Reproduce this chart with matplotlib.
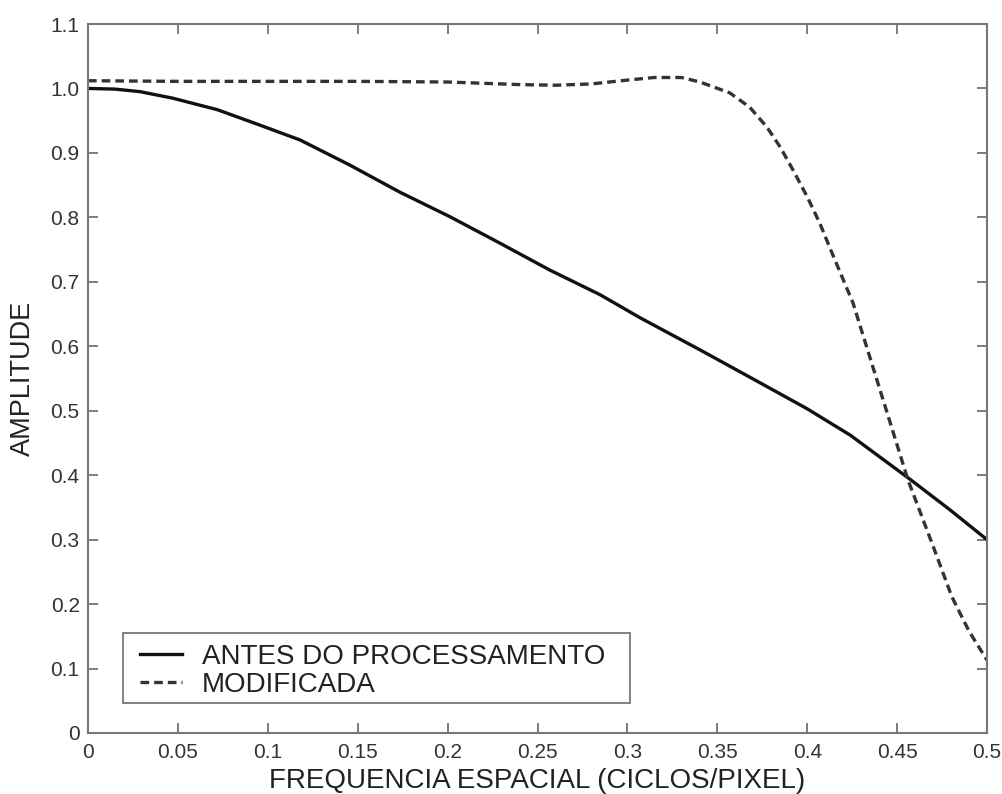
import numpy as np
import matplotlib
matplotlib.use("Agg")
import matplotlib.pyplot as plt
from matplotlib.patches import Rectangle

plt.rcParams['font.family'] = ['Liberation Sans', 'DejaVu Sans']

# Data
x_solid = [0.0, 0.015, 0.029, 0.047, 0.072, 0.0957, 0.118, 0.1457, 0.1735, 0.2013, 0.2291, 0.257,
           0.2848, 0.3072, 0.34, 0.374, 0.40, 0.424, 0.4575, 0.4795, 0.5]
y_solid = [1.0, 0.999, 0.995, 0.985, 0.967, 0.943, 0.920, 0.881, 0.839, 0.801, 0.760, 0.718,
           0.680, 0.644, 0.595, 0.543, 0.503, 0.462, 0.393, 0.346, 0.300]

x_mod = [0.0, 0.05, 0.1, 0.15, 0.2, 0.24, 0.26, 0.28, 0.30, 0.315, 0.33, 0.3404, 0.357, 0.368,
         0.3776, 0.385, 0.392, 0.40, 0.407, 0.4127, 0.4255, 0.4422, 0.456, 0.47, 0.4805, 0.49, 0.5]
y_mod = [1.012, 1.011, 1.011, 1.011, 1.010, 1.006, 1.005, 1.007, 1.013, 1.017, 1.017, 1.010, 0.993, 0.971,
         0.940, 0.909, 0.874, 0.832, 0.791, 0.752, 0.667, 0.517, 0.393, 0.290, 0.211, 0.158, 0.113]

xticks = [0, 0.05, 0.1, 0.15, 0.2, 0.25, 0.3, 0.35, 0.4, 0.45, 0.5]
xtick_labels = ['0', '0.05', '0.1', '0.15', '0.2', '0.25', '0.3', '0.35', '0.4', '0.45', '0.5']
yticks = [0, 0.1, 0.2, 0.3, 0.4, 0.5, 0.6, 0.7, 0.8, 0.9, 1.0, 1.1]
ytick_labels = ['0', '0.1', '0.2', '0.3', '0.4', '0.5', '0.6', '0.7', '0.8', '0.9', '1.0', '1.1']

W, H = 1002, 794
AX_L, AX_R, AX_T, AX_B = 88, 987, 24, 733

fig = plt.figure(figsize=(W / 100, H / 100), dpi=100)
ax = fig.add_axes([AX_L / W, (H - AX_B) / H, (AX_R - AX_L) / W, (AX_B - AX_T) / H])

ax.plot(x_solid, y_solid, color='#111111', lw=2.4, ls='-', label='ANTES DO PROCESSAMENTO',
        solid_joinstyle='round')
ax.plot(x_mod, y_mod, color='#333333', lw=2.4, ls=(0, (2.6, 1.5)), label='MODIFICADA')

ax.set_xlim(0, 0.5)
ax.set_ylim(0, 1.1)
ax.set_xticks(xticks)
ax.set_xticklabels(xtick_labels)
ax.set_yticks(yticks)
ax.set_yticklabels(ytick_labels)
ax.tick_params(direction='in', length=7, width=1.2, color='#666666', labelsize=15,
               labelcolor='#333333', top=True, right=True)
ax.tick_params(axis='x', pad=7)
ax.tick_params(axis='y', pad=6)
for s in ax.spines.values():
    s.set_color('#777777')
    s.set_linewidth(1.5)

ax.set_xlabel('FREQUENCIA ESPACIAL (CICLOS/PIXEL)', fontsize=20, color='#222222')
ax.xaxis.set_label_coords(0.5, -0.05)
ax.set_ylabel('AMPLITUDE', fontsize=19.5, color='#222222')
ax.yaxis.set_label_coords(-0.058, 0.5)

# legend frame (wider horizontal padding than vertical, as in the reference)
def px2ax(px, py):
    return ((px - AX_L) / (AX_R - AX_L), (AX_B - py) / (AX_B - AX_T))

x0, y0 = px2ax(123, 703)
x1, y1 = px2ax(630, 633)
ax.add_patch(Rectangle((x0, y0), x1 - x0, y1 - y0, transform=ax.transAxes,
                       facecolor='white', edgecolor='#777777', lw=1.3, zorder=4))

lx, ly = px2ax(140, 698)
leg = ax.legend(loc='lower left', bbox_to_anchor=(lx, ly), borderaxespad=0,
                fontsize=20, frameon=False, handlelength=1.5, borderpad=0,
                labelspacing=0.09, handletextpad=0.72)
leg.set_zorder(5)
for t in leg.get_texts():
    t.set_color('#222222')

fig.savefig('out.png', dpi=100)
